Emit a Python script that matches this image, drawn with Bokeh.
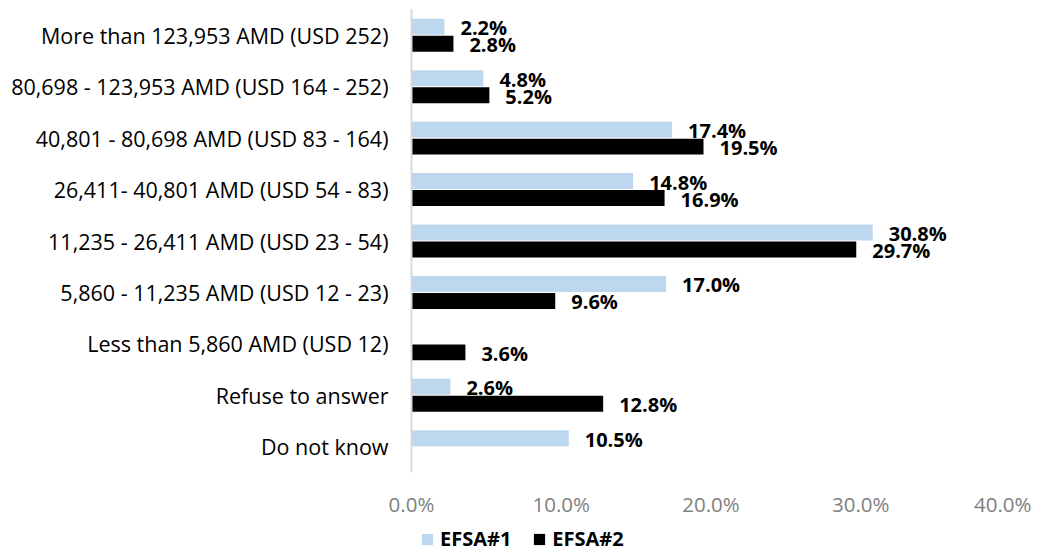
from bokeh.plotting import figure
from bokeh.layouts import column
from bokeh.models import ColumnDataSource, FactorRange, Range1d, FixedTicker, PrintfTickFormatter, Legend, LegendItem
from bokeh.transform import dodge
from bokeh.core.properties import value
from bokeh.embed import file_html
from bokeh.resources import INLINE

categories = [
    "More than 123,953 AMD (USD 252)",
    "80,698 - 123,953 AMD (USD 164 - 252)",
    "40,801 - 80,698 AMD (USD 83 - 164)",
    "26,411- 40,801 AMD (USD 54 - 83)",
    "11,235 - 26,411 AMD (USD 23 - 54)",
    "5,860 - 11,235 AMD (USD 12 - 23)",
    "Less than 5,860 AMD (USD 12)",
    "Refuse to answer",
    "Do not know",
]
efsa1 = [2.2, 4.8, 17.4, 14.8, 30.8, 17.0, None, 2.6, 10.5]
efsa2 = [2.8, 5.2, 19.5, 16.9, 29.7, 9.6, 3.6, 12.8, None]
series_names = ["EFSA#1", "EFSA#2"]
x_ticks = [0, 10, 20, 30, 40]

FONT = "Open Sans"
LIGHT = "#BDD7EE"
DARK = "#000000"
W = 1031

def make_source(vals):
    cats = [c for c, v in zip(categories, vals) if v is not None]
    vs = [v for v in vals if v is not None]
    labels = ["%.1f%%" % v for v in vs]
    return ColumnDataSource(dict(cat=cats, val=vs, label=labels))

s1 = make_source(efsa1)
s2 = make_source(efsa2)

p = figure(
    width=W, height=520,
    y_range=FactorRange(factors=list(reversed(categories)), range_padding=0),
    x_range=Range1d(0, 40),
    output_backend="svg", toolbar_location=None,
    min_border_left=411, min_border_right=21, min_border_top=9, min_border_bottom=41,
)
p.outline_line_color = None
p.xgrid.grid_line_color = None
p.ygrid.grid_line_color = None

off = 0.165
h = 0.31
p.hbar(y=dodge("cat", off, range=p.y_range), right="val", left=0, height=h,
       source=s1, fill_color=LIGHT, line_color=None)
p.hbar(y=dodge("cat", -off, range=p.y_range), right="val", left=0, height=h,
       source=s2, fill_color=DARK, line_color=None)

for src, o in ((s1, off), (s2, -off)):
    p.text(x="val", y=dodge("cat", o, range=p.y_range), text="label", source=src,
           x_offset=16, y_offset=1, text_align="left", text_baseline="middle",
           text_font=value(FONT), text_font_style="bold", text_font_size="20px",
           text_color="#000000")

xa = p.xaxis[0]
xa.ticker = FixedTicker(ticks=x_ticks)
xa.formatter = PrintfTickFormatter(format="%.1f%%")
xa.axis_line_color = None
xa.major_tick_line_color = None
xa.minor_tick_line_color = None
xa.major_label_text_font = FONT
xa.major_label_text_font_size = "20.5px"
xa.major_label_text_color = "#7f7f7f"
xa.major_label_standoff = 11

ya = p.yaxis[0]
ya.axis_line_color = "#d9d9d9"
ya.axis_line_width = 2
ya.major_tick_line_color = None
ya.minor_tick_line_color = None
ya.major_label_text_font = FONT
ya.major_label_text_font_size = "21.5px"
ya.major_label_text_color = "#000000"
ya.major_label_standoff = 17

# legend strip below the chart (its frame is aligned with the chart's frame)
lg = figure(width=W, height=32, x_range=Range1d(0, 1), y_range=Range1d(0, 1),
            output_backend="svg", toolbar_location=None, min_border=0)
lg.outline_line_color = None
lg.axis.visible = False
lg.xgrid.grid_line_color = None
lg.ygrid.grid_line_color = None
d1 = lg.rect(x=[-5], y=[-5], width=1, height=1, fill_color=LIGHT, line_color=None)
d2 = lg.rect(x=[-5], y=[-5], width=1, height=1, fill_color=DARK, line_color=None)
legend = Legend(
    items=[LegendItem(label=series_names[0], renderers=[d1]),
           LegendItem(label=series_names[1], renderers=[d2])],
    location=(9, 0), orientation="horizontal",
    glyph_width=14, glyph_height=14, label_standoff=6, spacing=21,
    padding=0, margin=0, border_line_color=None, background_fill_alpha=0,
    label_text_font=FONT, label_text_font_style="bold", label_text_font_size="20px",
    label_text_color="#000000", label_height=24,
)
lg.add_layout(legend, "center")

layout = column(p, lg, spacing=0)
open("out.html", "w").write(file_html(layout, INLINE))
